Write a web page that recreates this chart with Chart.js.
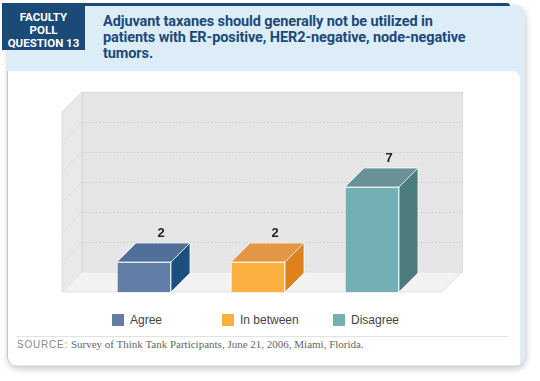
<!DOCTYPE html>
<html><head><meta charset="utf-8">
<script src="https://cdn.jsdelivr.net/npm/chart.js@4"></script>
<style>
html,body{margin:0;padding:0;background:#fff;width:540px;height:381px;overflow:hidden;font-family:"Liberation Sans",Arial,sans-serif;}
#stage{position:absolute;left:0;top:0;width:540px;height:381px;}
.card{position:absolute;left:7px;top:5px;width:518px;height:361px;background:#dcedf8;border-radius:0 10px 10px 10px;box-shadow:1px 3px 6px rgba(0,0,0,0.22);}
.topline{position:absolute;left:2px;top:3px;width:508px;height:3px;background:#1b4a78;border-radius:0 3px 0 0;}
.tab{position:absolute;left:2px;top:3px;width:83px;height:47px;background:#1b4a78;color:#fff;font:bold 11.5px/13px "Roboto","Liberation Sans",sans-serif;text-align:center;padding-top:8px;box-sizing:border-box;}
.title{position:absolute;left:103px;top:14px;width:420px;color:#1b4a78;font:bold 14.5px/16px "Roboto","Liberation Sans",sans-serif;letter-spacing:-0.1px;}
.inner{position:absolute;left:7px;top:71px;width:513px;height:294px;background:#fff;border-radius:0 8px 0 8px;border-left:1px solid #c4c4c4;box-sizing:border-box;}
.sep{position:absolute;left:17px;top:336px;width:491px;height:1px;background:#e2e2e2;}
.source{position:absolute;left:17px;top:337px;font:11px/14px "Liberation Serif","DejaVu Serif",serif;color:#666;white-space:nowrap;}
.source b{font:normal 10px "Liberation Sans",sans-serif;letter-spacing:0.8px;color:#8a8a8a;}
#legend{position:absolute;left:0;top:314px;width:540px;height:14px;}
.li{position:absolute;top:0;font:12px/12px "Liberation Sans",sans-serif;color:#444;white-space:nowrap;}
.li span.sw{display:inline-block;width:12px;height:12px;vertical-align:top;margin-right:6px;}
#wrap{position:absolute;left:0;top:0;width:540px;height:381px;}
</style></head>
<body>
<div id="stage">
  <div class="card"></div>
  <div class="topline"></div>
  <div class="tab">FACULTY<br>POLL<br>QUESTION 13</div>
  <div class="title">Adjuvant taxanes should generally not be utilized in<br>patients with ER-positive, HER2-negative, node-negative<br>tumors.</div>
  <div class="inner"></div>
  <div class="sep"></div>
  <div class="source"><b>SOURCE:</b> Survey of Think Tank Participants, June 21, 2006, Miami, Florida.</div>
  <div id="legend"></div>
  <div id="wrap"><canvas id="c"></canvas></div>
</div>
<script>
// ---- data ----
const categories = ['Agree', 'In between', 'Disagree'];
const values = [2, 2, 7];
const yTicks = [0, 2, 4, 6, 8, 10, 12];

// ---- styles ----
const frontColors = ['#617ea6', '#fbb040', '#73afb5'];
const topColors   = ['#50709a', '#e39643', '#6a9196'];
const sideColors  = ['#1b4f7e', '#df821c', '#4d7c7f'];
const legendX = [112, 222, 333];

// legend (HTML)
const lg = document.getElementById('legend');
categories.forEach((c, i) => {
  const d = document.createElement('div');
  d.className = 'li';
  d.style.left = legendX[i] + 'px';
  d.innerHTML = '<span class="sw" style="background:' + frontColors[i] + '"></span>' + c;
  lg.appendChild(d);
});

const DEPTH_WALL = 20, DEPTH_BAR = 19;
const FLOOR_EXT_L = 25, FLOOR_EXT_R = 13;

const box3d = {
  id: 'box3d',
  beforeDatasetsDraw(chart) {
    const ctx = chart.ctx, a = chart.chartArea, y = chart.scales.y;
    const L = a.left - FLOOR_EXT_L, R = a.right + FLOOR_EXT_R;
    const T = y.getPixelForValue(yTicks[yTicks.length - 1]), B = y.getPixelForValue(0);
    const d = DEPTH_WALL;
    ctx.save();
    ctx.lineWidth = 1;
    // back wall
    ctx.fillStyle = '#e6e6e6'; ctx.strokeStyle = '#d9d9d9';
    ctx.fillRect(L + d, T - d, R - L, B - T);
    ctx.strokeRect(L + d + 0.5, T - d + 0.5, R - L, B - T);
    // left wall
    ctx.fillStyle = '#e9e9e9';
    ctx.beginPath();
    ctx.moveTo(L, T); ctx.lineTo(L + d, T - d); ctx.lineTo(L + d, B - d); ctx.lineTo(L, B); ctx.closePath();
    ctx.fill(); ctx.stroke();
    // floor
    ctx.fillStyle = '#f2f2f2';
    ctx.beginPath();
    ctx.moveTo(L, B); ctx.lineTo(L + d, B - d); ctx.lineTo(R + d, B - d); ctx.lineTo(R, B); ctx.closePath();
    ctx.fill(); ctx.strokeStyle = '#e0e0e0'; ctx.stroke();
    // gridlines
    ctx.setLineDash([1.5, 2]);
    ctx.strokeStyle = '#cfcfcf';
    yTicks.slice(1, -1).forEach(v => {
      const py = Math.round(y.getPixelForValue(v)) + 0.5;
      ctx.beginPath();
      ctx.moveTo(L, py); ctx.lineTo(L + d, py - d); ctx.lineTo(R + d, py - d);
      ctx.stroke();
    });
    ctx.restore();
  },
  afterDatasetsDraw(chart) {
    const ctx = chart.ctx;
    const meta = chart.getDatasetMeta(0);
    const d = DEPTH_BAR;
    ctx.save();
    meta.data.forEach((bar, i) => {
      const p = bar.getProps(['x', 'y', 'base', 'width'], true);
      const l = p.x - p.width / 2, r = p.x + p.width / 2, t = p.y, b = p.base;
      ctx.strokeStyle = 'rgba(255,255,255,0.75)';
      ctx.lineWidth = 1;
      // top face
      ctx.fillStyle = topColors[i];
      ctx.beginPath();
      ctx.moveTo(l, t); ctx.lineTo(l + d, t - d); ctx.lineTo(r + d, t - d); ctx.lineTo(r, t); ctx.closePath();
      ctx.fill(); ctx.stroke();
      // side face
      ctx.fillStyle = sideColors[i];
      ctx.beginPath();
      ctx.moveTo(r, t); ctx.lineTo(r + d, t - d); ctx.lineTo(r + d, b - d); ctx.lineTo(r, b); ctx.closePath();
      ctx.fill(); ctx.stroke();
      // value label
      ctx.fillStyle = '#222';
      ctx.font = 'bold 13px "Liberation Sans", Arial, sans-serif';
      ctx.textAlign = 'center'; ctx.textBaseline = 'middle';
      ctx.fillText(String(values[i]), p.x + d - 2, t - d - 10);
    });
    ctx.restore();
  }
};

new Chart(document.getElementById('c'), {
  type: 'bar',
  data: {
    labels: categories,
    datasets: [{
      data: values,
      backgroundColor: frontColors,
      borderColor: 'rgba(255,255,255,0.75)',
      borderWidth: 1,
      barThickness: 54
    }]
  },
  options: {
    responsive: true,
    maintainAspectRatio: false,
    animation: false,
    devicePixelRatio: 1,
    layout: { padding: { left: 87, right: 111, top: 112, bottom: 89 } },
    plugins: { legend: { display: false }, tooltip: { enabled: false } },
    scales: {
      x: { display: false },
      y: { display: false, min: yTicks[0], max: yTicks[yTicks.length - 1], ticks: { stepSize: 2 } }
    }
  },
  plugins: [box3d]
});
</script>
</body></html>
